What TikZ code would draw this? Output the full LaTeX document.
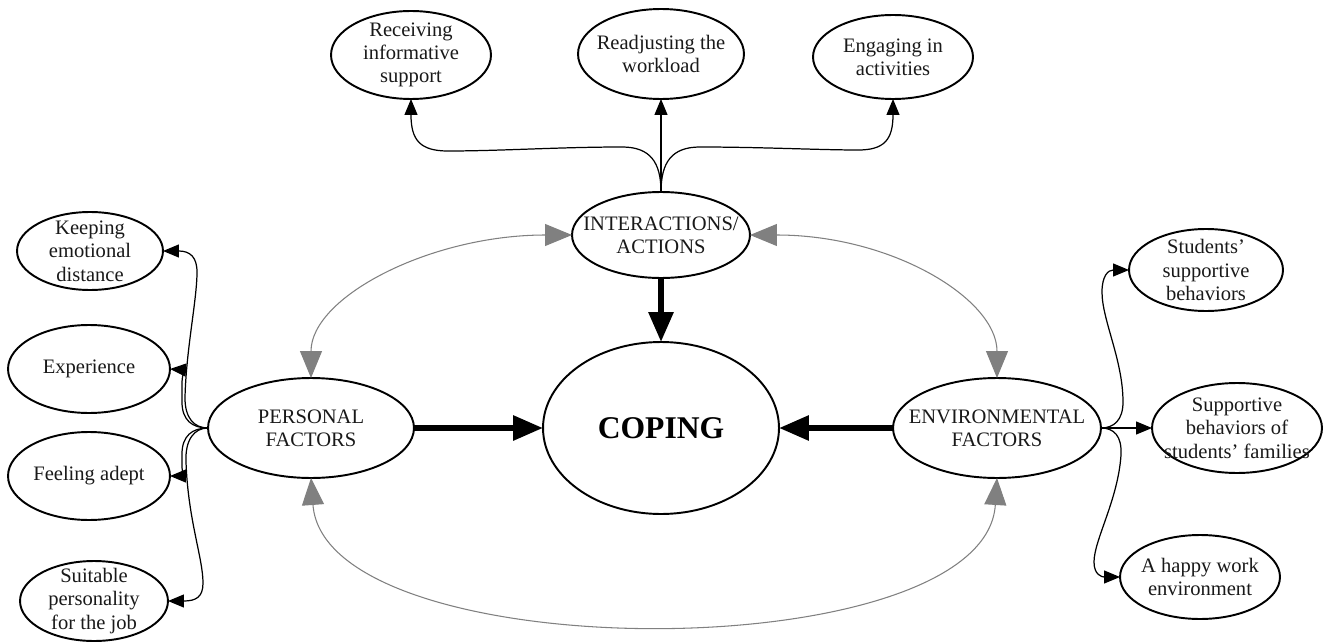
\documentclass[tikz,border=0pt]{standalone}
\usepackage{fontspec}
\setmainfont{Liberation Serif}
\usetikzlibrary{shapes.geometric,arrows.meta}
\begin{document}
\begin{tikzpicture}[x=0.02cm,y=-0.02cm,
  ell/.style={draw, ellipse, line width=1.1pt, inner sep=0pt, outer sep=0pt},
  txt/.style={align=center, font=\fontsize{11.7}{13.3}\selectfont, inner sep=0pt, text=black!90},
  t/.style={label={[txt]center:{#1}}},
  arr/.style={line width=0.7pt, -{Triangle[length=0.32cm,width=0.26cm]}},
  garr/.style={draw=black!50, line width=0.6pt,
    {Triangle[length=0.54cm,width=0.44cm]}-{Triangle[length=0.54cm,width=0.44cm]}},
  big/.style={line width=3.4pt, -{Triangle[length=0.6cm,width=0.48cm]}},
]
\fill[white] (0,0) rectangle (1325,642);
\useasboundingbox (0,0) rectangle (1325,642);

% top row
\node[ell, minimum width=3.2cm, minimum height=1.76cm, t={Receiving\\informative\\support}] (rec) at (411,55) {};
\node[ell, minimum width=3.32cm, minimum height=1.8cm, t={Readjusting the\\workload}] (rea) at (661,54) {};
\node[ell, minimum width=3.2cm, minimum height=1.68cm, t={Engaging in\\activities}] (eng) at (893,57) {};

% centre
\node[ell, minimum width=3.56cm, minimum height=1.72cm, t={INTERACTIONS/\\ACTIONS}] (int) at (661,235) {};
\node[ell, minimum width=4.72cm, minimum height=3.44cm,
  label={[inner sep=0pt, font=\fontsize{18}{20}\selectfont\bfseries]center:COPING}] (cop) at (661,428) {};
\node[ell, minimum width=4.12cm, minimum height=2.0cm, t={PERSONAL\\FACTORS}] (per) at (311,428) {};
\node[ell, minimum width=4.16cm, minimum height=2.0cm, t={ENVIRONMENTAL\\FACTORS}] (env) at (997,428) {};

% left column
\node[ell, minimum width=2.92cm, minimum height=1.56cm, t={Keeping\\emotional\\distance}] (keep) at (90,251) {};
\node[ell, minimum width=3.24cm, minimum height=1.76cm, t={Experience}] (exp) at (89,369) {};
\node[ell, minimum width=3.24cm, minimum height=1.76cm, t={Feeling adept}] (feel) at (89,476) {};
\node[ell, minimum width=2.96cm, minimum height=1.6cm, t={Suitable\\personality\\for the job}] (suit) at (94,601) {};

% right column
\node[ell, minimum width=3.08cm, minimum height=1.64cm, t={Students’\\supportive\\behaviors}] (stud) at (1206,270) {};
\node[ell, minimum width=3.4cm, minimum height=1.8cm, t={Supportive\\behaviors of\\students’ families}] (fam) at (1237,428) {};
\node[ell, minimum width=3.2cm, minimum height=1.68cm, t={A happy work\\environment}] (happy) at (1200,577) {};

% top connectors
\draw[arr] (int.north) -- (rea.south);
\draw[arr] (int.north) .. controls (661,162) and (650,147) .. (622,147)
  .. controls (560,147) and (500,151) .. (448,151)
  .. controls (420,151) and (411,140) .. (rec.south);
\draw[arr] (int.north) .. controls (661,162) and (672,147) .. (700,147)
  .. controls (760,147) and (820,150) .. (858,150)
  .. controls (884,150) and (893,140) .. (eng.south);

% left connectors
\draw[arr] (per.west) .. controls (194,428) and (185,418) .. (185,398)
  .. controls (186,350) and (197,300) .. (197,272)
  .. controls (197,257) and (190,251) .. (keep.east);
\draw[arr] (per.west) .. controls (192,428) and (182,420) .. (182,402) -- (182,384)
  .. controls (182,373) and (185,370) .. (exp.east);
\draw[arr] (per.west) .. controls (192,428) and (182,436) .. (182,454) -- (182,466)
  .. controls (182,474) and (185,476) .. (feel.east);
\draw[arr] (per.west) .. controls (194,428) and (185,440) .. (186,462)
  .. controls (188,520) and (203,558) .. (203,583)
  .. controls (203,597) and (196,601) .. (suit.east);

% right connectors
\draw[arr] (env.east) .. controls (1114,428) and (1123,420) .. (1123,402)
  .. controls (1123,360) and (1102,320) .. (1102,292)
  .. controls (1102,276) and (1108,270) .. (stud.west);
\draw[arr] (env.east) -- (fam.west);
\draw[arr] (env.east) .. controls (1114,428) and (1122,436) .. (1121,455)
  .. controls (1118,500) and (1094,540) .. (1094,562)
  .. controls (1094,575) and (1102,577) .. (happy.west);

% grey two-way connectors
\draw[garr] (per.north) .. controls (311,297) and (430,235) .. (int.west);
\draw[garr] (int.east) .. controls (892,235) and (997,299) .. (env.north);
\draw[garr] (per.south) .. controls (325,670) and (985,670) .. (env.south);

% thick arrows into COPING
\draw[big] (per.east) -- (cop.west);
\draw[big] (env.west) -- (cop.east);
\draw[big] (int.south) -- (cop.north);
\end{tikzpicture}
\end{document}
